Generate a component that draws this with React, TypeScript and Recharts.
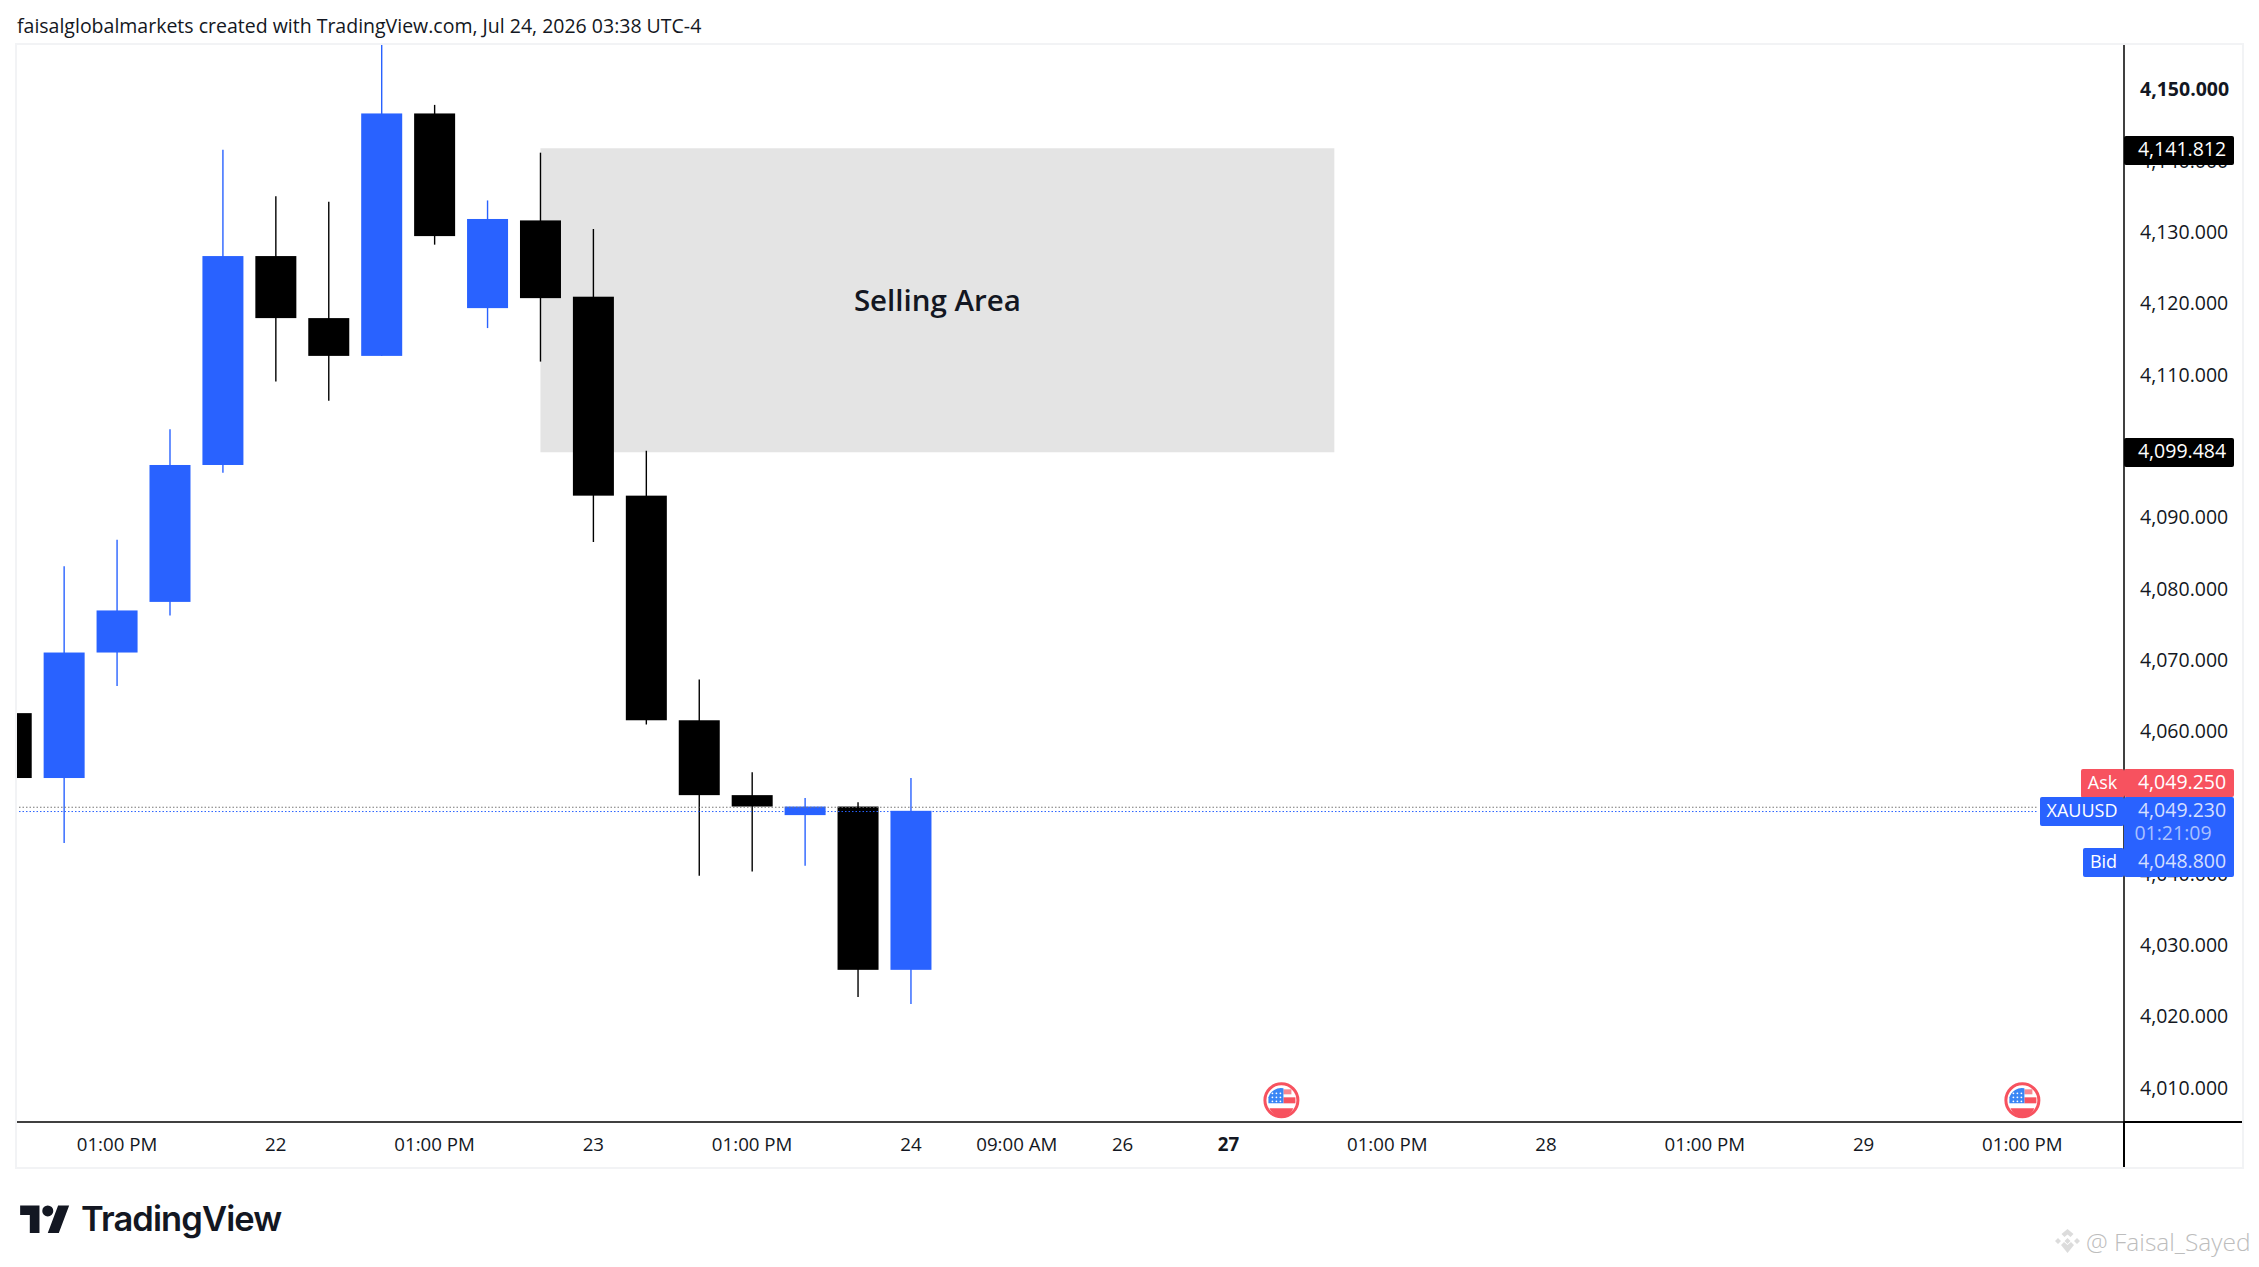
import { Bar, ComposedChart, ReferenceArea, ReferenceDot, ReferenceLine, XAxis, YAxis } from "recharts";

const FONT = "'Open Sans', sans-serif";
const INK = "#131722";
const UP = "#2962ff";
const DOWN = "#000000";

const opens = [4062.6, 4053.5, 4071.1, 4078.2, 4097.4, 4126.7, 4118.0, 4112.7, 4146.7, 4119.4, 4131.7, 4121.0, 4093.1, 4061.6, 4051.1, 4048.3, 4049.5, 4026.6];
const highs = [4063.0, 4083.2, 4086.9, 4102.4, 4141.6, 4135.1, 4134.3, 4158.0, 4147.9, 4134.5, 4141.2, 4130.5, 4099.4, 4067.3, 4054.3, 4050.7, 4050.1, 4053.5];
const lows = [4053.0, 4044.4, 4066.4, 4076.3, 4096.3, 4109.1, 4106.4, 4112.7, 4128.3, 4116.6, 4111.9, 4086.6, 4061.0, 4039.8, 4040.4, 4041.2, 4022.8, 4021.8];
const closes = [4053.5, 4071.1, 4077.0, 4097.4, 4126.7, 4118.0, 4112.7, 4146.7, 4129.5, 4131.9, 4120.8, 4093.1, 4061.6, 4051.1, 4049.5, 4049.5, 4026.6, 4048.9];

const priceTicks = [4010, 4020, 4030, 4040, 4050, 4060, 4070, 4080, 4090, 4100, 4110, 4120, 4130, 4140, 4150];
const timeTicks = [2, 5, 8, 11, 14, 17, 19, 21, 23, 26, 29, 32, 35, 38];
const timeLabels = ["01:00 PM", "22", "01:00 PM", "23", "01:00 PM", "24", "09:00 AM", "26", "27", "01:00 PM", "28", "01:00 PM", "29", "01:00 PM"];
const eventSlots = [24, 38];

const candles = opens.map((open, i) => ({ slot: i, open, high: highs[i], low: lows[i], close: closes[i] }));

const Candle = (props: any) => {
  const { x, y, width, height, payload } = props;
  const top = Math.min(y, y + height);
  const range = Math.abs(height);
  const perUnit = range / (payload.high - payload.low);
  const bodyTop = top + (payload.high - Math.max(payload.open, payload.close)) * perUnit;
  const bodyH = Math.max(Math.abs(payload.close - payload.open) * perUnit, 1);
  const color = payload.close >= payload.open ? UP : DOWN;
  return (
    <g>
      <line x1={x + width / 2} x2={x + width / 2} y1={top} y2={top + range} stroke={color} strokeWidth={1.4} />
      <rect x={x} y={bodyTop} width={width} height={bodyH} fill={color} />
    </g>
  );
};

const FlagDot = ({ cx, cy }: any) => (
  <g>
    <circle cx={cx} cy={cy} r={16.5} fill="#fff" stroke="#f7525f" strokeWidth={3} />
    <rect x={cx + 2} y={cy - 11} width={8} height={5} fill="#f7525f" fillOpacity={0.7} />
    <rect x={cx + 2} y={cy - 3} width={12} height={6} fill="#f7525f" />
    <path d={`M${cx - 12} ${cy + 8}h24a13 13 0 0 1 -24 0z`} fill="#f7525f" />
    <path d={`M${cx - 13} ${cy + 3}v-6a13 13 0 0 1 15 -9v15z`} fill="#3a86f5" />
    {[-9, -5, -1].map((dx) =>
      [-7, -3, 1].map((dy) => <circle key={`${dx}${dy}`} cx={cx + dx} cy={cy + dy} r={0.9} fill="#fff" />)
    )}
  </g>
);

const PriceTick = ({ x, y, payload }: any) => (
  <text
    x={x + 8}
    y={y}
    dy={6.5}
    fontFamily={FONT}
    fontSize={19.5}
    fontWeight={payload.value === 4150 ? 700 : 400}
    fill={INK}
  >
    {payload.value.toLocaleString("en-US", { minimumFractionDigits: 3 })}
  </text>
);

const TimeTick = ({ x, y, payload }: any) => {
  const label = timeLabels[timeTicks.indexOf(payload.value)];
  return (
    <text x={x} y={y} dy={21} textAnchor="middle" fontFamily={FONT} fontSize={18.7} fontWeight={label === "27" ? 700 : 400} fill={INK}>
      {label}
    </text>
  );
};

const tag = (top: number, left: number, width: number, height: number, background: string): React.CSSProperties => ({
  position: "absolute",
  top,
  left,
  width,
  height,
  background,
  color: "#fff",
  fontFamily: FONT,
  fontSize: 18,
  lineHeight: `${height - 3}px`,
  textAlign: "center",
  borderRadius: 2,
});

const priceTag = { paddingLeft: 6, boxSizing: "border-box" as const, fontSize: 19.5 };

export default function App() {
  return (
    <div style={{ position: "absolute", left: 0, top: 0, width: 2259, height: 1267, background: "#fff", overflow: "hidden" }}>
      <div style={{ position: "absolute", left: 17, top: 12, fontFamily: FONT, fontSize: 19.5, color: INK, whiteSpace: "nowrap" }}>
        faisalglobalmarkets created with TradingView.com, Jul 24, 2026 03:38 UTC-4
      </div>

      <div style={{ position: "absolute", left: 15, top: 43, width: 2229, height: 1126, boxSizing: "border-box", border: "2px solid #f2f3f5" }} />

      <div style={{ position: "absolute", left: 17, top: 45 }}>
        <ComposedChart width={2225} height={1122} data={candles} margin={{ top: 0, right: 0, bottom: 0, left: 0 }}>
          <XAxis
            dataKey="slot"
            type="number"
            domain={[0.11, 39.92]}
            allowDataOverflow
            ticks={timeTicks}
            interval={0}
            height={45}
            tickLine={false}
            axisLine={{ stroke: "#000", strokeWidth: 1.5 }}
            tick={<TimeTick />}
          />
          <YAxis
            orientation="right"
            width={118}
            domain={[4005.26, 4156.3]}
            allowDataOverflow
            ticks={priceTicks}
            interval={0}
            tickLine={false}
            axisLine={{ stroke: "#000", strokeWidth: 1.5 }}
            tick={<PriceTick />}
          />
          <ReferenceArea
            x1={10}
            x2={25}
            y1={4099.2}
            y2={4141.812}
            fill="#e4e4e4"
            fillOpacity={1}
            stroke="none"
            label={{ value: "Selling Area", position: "center", fontFamily: FONT, fontSize: 29.5, fontWeight: 600, fill: INK }}
          />
          <ReferenceLine y={4049.4} stroke="#777777" strokeDasharray="1.5 2" strokeWidth={1} />
          <ReferenceLine y={4048.8} stroke="#2962ff" strokeDasharray="1.5 2" strokeWidth={1} />
          <Bar dataKey={(d: any) => [d.low, d.high]} barSize={41} shape={<Candle />} isAnimationActive={false} />
          {eventSlots.map((slot) => (
            <ReferenceDot key={slot} x={slot} y={4008.3} r={17} shape={<FlagDot />} />
          ))}
        </ComposedChart>
      </div>

      {/* axis lines run on past the plot */}
      <div style={{ position: "absolute", left: 2123, top: 1122, width: 1.5, height: 45, background: "#000" }} />
      <div style={{ position: "absolute", left: 2124, top: 1121, width: 118, height: 1.5, background: "#000" }} />

      <div style={{ ...tag(136, 2124, 110, 29, "#000"), ...priceTag }}>4,141.812</div>
      <div style={{ ...tag(438, 2124, 110, 29, "#000"), ...priceTag }}>4,099.484</div>

      <div style={tag(769, 2081, 43, 29, "#f7525f")}>Ask</div>
      <div style={{ ...tag(769, 2124, 110, 28, "#f7525f"), ...priceTag }}>4,049.250</div>
      <div style={{ ...tag(797, 2040, 84, 29, UP), boxShadow: "-3px 0 0 #fff" }}>XAUUSD</div>
      <div style={{ ...tag(797, 2124, 110, 80, UP), height: 80 }} />
      <div style={{ ...tag(797, 2124, 110, 29, "transparent"), ...priceTag, color: "#d4dfff" }}>4,049.230</div>
      <div style={{ ...tag(821, 2124, 110, 26, "transparent"), ...priceTag, paddingLeft: 0, paddingRight: 12, color: "#a9c0ff" }}>01:21:09</div>
      <div style={tag(848, 2083, 41, 29, UP)}>Bid</div>
      <div style={{ ...tag(848, 2124, 110, 29, "transparent"), ...priceTag, color: "#d4dfff" }}>4,048.800</div>

      <svg style={{ position: "absolute", left: 20, top: 1204 }} width={50} height={29} viewBox="0 0 36 21">
        <path d="M14 21H7V8H0V1h14v20zM28 21h-8l7.5-20h8L28 21z" fill={INK} />
        <circle cx={20} cy={5} r={4} fill={INK} />
      </svg>
      <div style={{ position: "absolute", left: 81, top: 1198, fontFamily: "Inter, sans-serif", fontWeight: 600, fontSize: 34.5, letterSpacing: -0.9, color: INK }}>
        TradingView
      </div>

      <svg style={{ position: "absolute", left: 2053, top: 1227 }} width={29} height={28} viewBox="0 0 29 28">
        <path d="M14.5 2l6 5-3 3-3-2.5-3 2.5-3-3zM5 11l3 3-3 3-3-3zM24 11l3 3-3 3-3-3zM14.5 11l3 3-3 3-3-3zM8 18l3-3 3.5 3 3.5-3 3 3-6.5 8z" fill="#dcdcdc" />
      </svg>
      <div style={{ position: "absolute", left: 2086, top: 1225, fontFamily: FONT, fontSize: 24.5, fontWeight: 300, color: "#bdbdbd", whiteSpace: "nowrap" }}>
        @ Faisal_Sayed
      </div>
    </div>
  );
}
